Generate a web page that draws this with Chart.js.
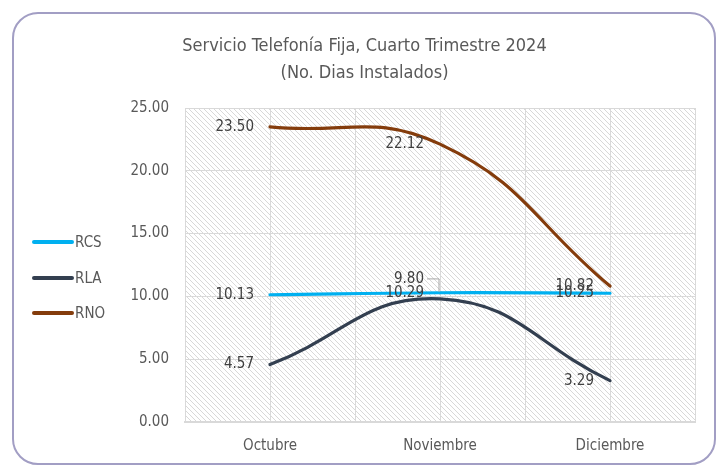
<!DOCTYPE html>
<html>
<head>
<meta charset="utf-8">
<script src="https://cdn.jsdelivr.net/npm/chart.js@4.4.1/dist/chart.umd.min.js"></script>
<style>
  html, body { margin: 0; padding: 0; background: #fff; }
  #wrap { position: relative; width: 717px; height: 466px; }
  #frame {
    position: absolute; left: 12px; top: 12px; width: 700px; height: 449px;
    border: 2px solid #a29ec4; border-radius: 26px; pointer-events: none;
  }
</style>
</head>
<body>
<div id="wrap">
  <canvas id="chart" width="717" height="466"></canvas>
  <div id="frame"></div>
</div>
<script>
const months = ['Octubre', 'Noviembre', 'Diciembre'];
const rcs = [10.13, 10.29, 10.25];
const rla = [4.57, 9.80, 3.29];
const rno = [23.50, 22.12, 10.82];
const yTicks = [0, 5, 10, 15, 20, 25];

const FONT = "'Liberation Sans Narrow', 'DejaVu Sans Condensed', sans-serif";
const TEXT = '#595959';

// diagonal hatch behind the plot area
const hatch = {
  id: 'hatch',
  beforeDraw(chart) {
    const { ctx, chartArea: a } = chart;
    const p = document.createElement('canvas');
    p.width = 5; p.height = 5;
    const pc = p.getContext('2d');
    pc.strokeStyle = '#d8d8d8';
    pc.lineWidth = 1;
    pc.beginPath();
    pc.moveTo(-1, -1); pc.lineTo(6, 6);
    pc.moveTo(-1, 4); pc.lineTo(1, 6);
    pc.moveTo(4, -1); pc.lineTo(6, 1);
    pc.stroke();
    ctx.save();
    ctx.fillStyle = ctx.createPattern(p, 'repeat');
    ctx.fillRect(a.left, a.top, a.right - a.left, a.bottom - a.top);
    ctx.restore();
  }
};

// value labels, to the left of each point
const valueLabels = {
  id: 'valueLabels',
  afterDatasetsDraw(chart) {
    const { ctx } = chart;
    ctx.save();
    ctx.font = '15px ' + FONT;
    ctx.fillStyle = '#404040';
    ctx.textAlign = 'right';
    ctx.textBaseline = 'middle';
    chart.data.datasets.forEach((ds, i) => {
      chart.getDatasetMeta(i).data.forEach((pt, j) => {
        const lift = (ds.label === 'RLA' && j === 1) ? 20 : 0;
        const x = pt.x - 16, y = pt.y - lift;
        ctx.fillText(ds.data[j].toFixed(2), x, y);
        if (lift) {
          ctx.strokeStyle = '#a6a6a6';
          ctx.lineWidth = 1;
          ctx.beginPath();
          ctx.moveTo(x + 3, y);
          ctx.lineTo(pt.x - 1, y);
          ctx.lineTo(pt.x - 1, pt.y - 7);
          ctx.stroke();
        }
      });
    });
    ctx.restore();
  }
};

// legend on the left
const sideLegend = {
  id: 'sideLegend',
  afterDraw(chart) {
    const { ctx } = chart;
    ctx.save();
    ctx.font = '15px ' + FONT;
    ctx.fillStyle = TEXT;
    ctx.textBaseline = 'middle';
    const rows = [242, 278, 313];
    chart.data.datasets.forEach((ds, i) => {
      const y = rows[i];
      ctx.strokeStyle = ds.borderColor;
      ctx.lineWidth = 4;
      ctx.lineCap = 'round';
      ctx.beginPath();
      ctx.moveTo(34, y); ctx.lineTo(72, y);
      ctx.stroke();
      ctx.fillText(ds.label, 75, y + 1);
    });
    ctx.restore();
  }
};

const line = (label, data, color) => ({
  label, data,
  borderColor: color,
  backgroundColor: color,
  borderWidth: 3.2,
  tension: 0.45,
  pointRadius: 0,
  borderCapStyle: 'round',
  fill: false
});

new Chart(document.getElementById('chart'), {
  type: 'line',
  data: {
    labels: months,
    datasets: [
      line('RCS', rcs, '#00b0f0'),
      line('RLA', rla, '#333f50'),
      line('RNO', rno, '#843c0c')
    ]
  },
  options: {
    responsive: false,
    animation: false,
    layout: { padding: { left: 34, right: 22, top: 0, bottom: 0 } },
    plugins: {
      legend: { display: false },
      tooltip: { enabled: false },
      title: {
        display: true,
        text: ['Servicio Telefonía Fija, Cuarto Trimestre 2024', '(No. Dias Instalados)'],
        color: TEXT,
        font: { family: FONT, size: 18, weight: 'normal', lineHeight: 1.5 },
        padding: { top: 33, bottom: 21 }
      }
    },
    scales: {
      x: {
        offset: true,
        grid: { display: false },
        border: { color: '#d9d9d9', width: 2 },
        ticks: { color: TEXT, font: { family: FONT, size: 15 }, padding: 7 },
        afterFit: s => { s.height = 44; }
      },
      x2: {
        type: 'linear',
        position: 'top',
        min: 0, max: 6,
        ticks: { display: false, stepSize: 1 },
        grid: { color: '#d9d9d9', drawTicks: false },
        border: { display: false },
        afterFit: s => { s.height = 0; }
      },
      y: {
        min: 0, max: 25,
        afterBuildTicks: s => { s.ticks = yTicks.map(v => ({ value: v })); },
        grid: { color: '#d9d9d9', drawTicks: false },
        border: { display: false },
        ticks: {
          color: TEXT,
          font: { family: FONT, size: 15 },
          padding: 16,
          callback: v => v.toFixed(2)
        },
        afterFit: s => { s.width = 151; }
      }
    }
  },
  plugins: [hatch, valueLabels, sideLegend]
});
</script>
</body>
</html>
